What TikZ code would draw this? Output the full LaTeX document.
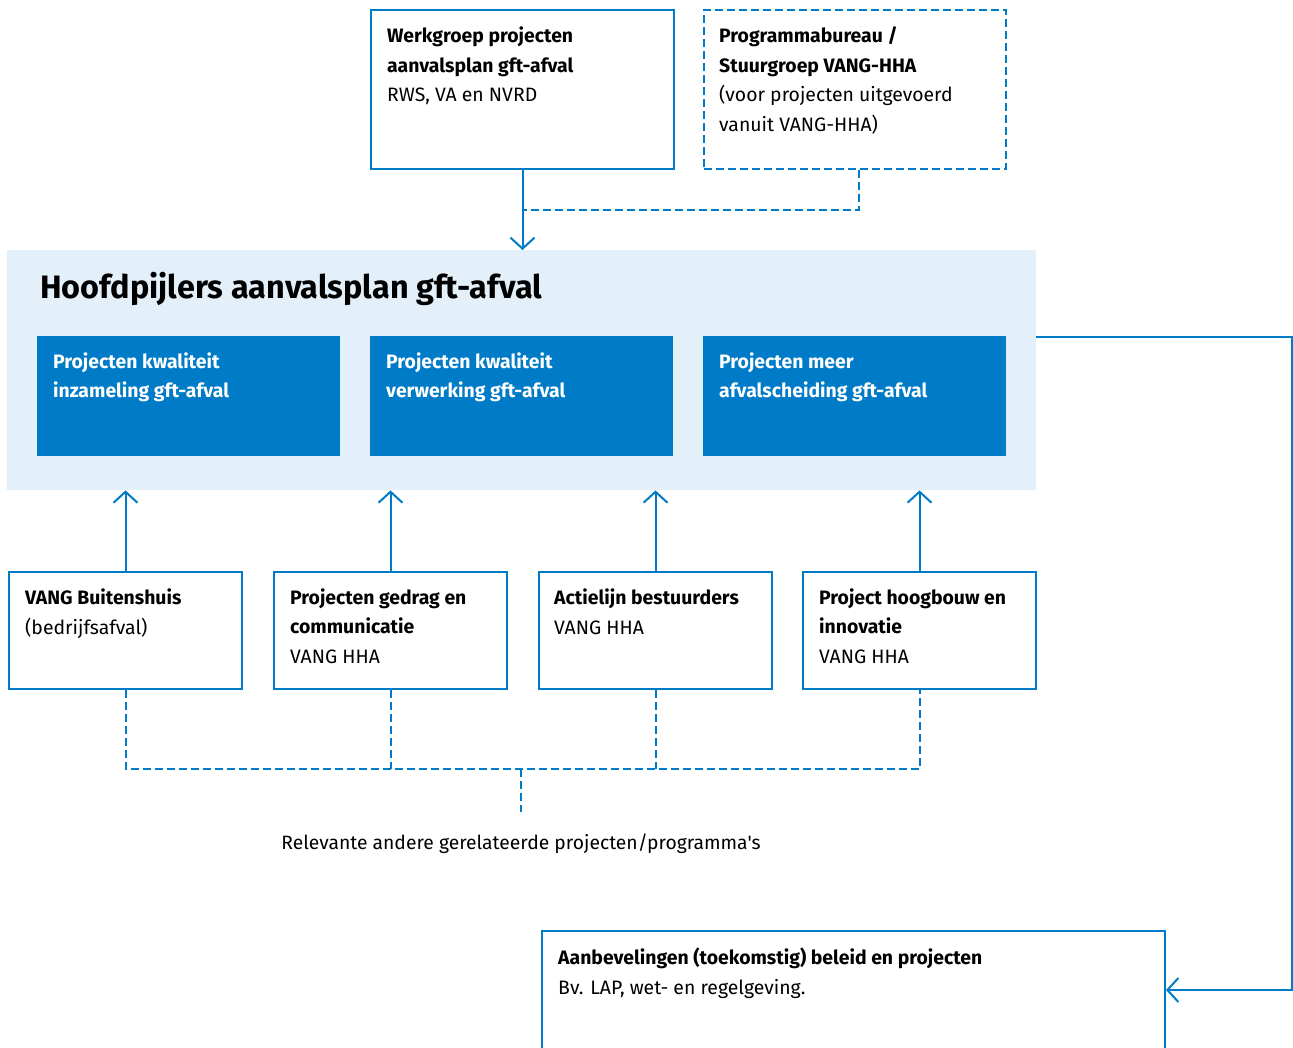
\documentclass[tikz,border=0pt]{standalone}
\usepackage{fontspec}
\setmainfont{Fira Sans}[Ligatures=TeXOff]
\usetikzlibrary{arrows.meta,calc}
\definecolor{rblue}{RGB}{0,123,199}
\definecolor{lightbg}{RGB}{227,240,249}
\tikzset{
  outline/.style={draw=rblue, line width=2pt, fill=white, anchor=north west, inner sep=0pt},
  dashbox/.style={outline, dash pattern=on 8pt off 4pt},
  pillar/.style={fill=rblue, draw=none, anchor=north west, inner sep=0pt, minimum width=303pt, minimum height=120pt},
  lower/.style={outline, minimum width=233pt, minimum height=117pt},
  lbl/.style={anchor=base west, inner sep=0pt, align=left, font=\fontsize{19.4}{29.5}\selectfont},
  wlbl/.style={lbl, text=white, font=\fontsize{19.4}{29.5}\selectfont\bfseries},
  conn/.style={draw=rblue, line width=2pt},
  dconn/.style={conn, dash pattern=on 8pt off 4pt},
  tip/.style={-{Straight Barb[length=11pt, width=24pt, line width=2pt]}}
}
\begin{document}
\begin{tikzpicture}[x=1pt, y=-1pt]
\clip (0,0) rectangle (1293,1048);
\fill[white] (0,0) rectangle (1293,1048);

% top boxes
\node[outline, minimum width=303pt, minimum height=159pt] (wg) at (370,9) {};
\node[dashbox, minimum width=302pt, minimum height=159pt] (pb) at (703,9) {};
\node[lbl] (wgt) at (387,102) {\textbf{Werkgroep projecten}\\\textbf{aanvalsplan gft-afval}\\RWS, VA en NVRD};
\node[lbl] (pbt) at (719,131.5) {\textbf{Programmabureau /}\\\textbf{Stuurgroep VANG-HHA}\\(voor projecten uitgevoerd\\vanuit VANG-HHA)};

% main area
\node[fill=lightbg, draw=none, anchor=north west, inner sep=0pt, minimum width=1029pt, minimum height=240pt] (hb) at (7,250) {};
\node[anchor=base west, inner sep=0pt, font=\fontsize{32.4}{40}\selectfont\bfseries] (title) at (40,299) {Hoofdpijlers aanvalsplan gft-afval};

\node[pillar] (p1) at (37,336) {};
\node[pillar] (p2) at (370,336) {};
\node[pillar] (p3) at (703,336) {};
\node[wlbl] (p1t) at (53,398) {Projecten kwaliteit\\inzameling gft-afval};
\node[wlbl] (p2t) at (386,398) {Projecten kwaliteit\\verwerking gft-afval};
\node[wlbl] (p3t) at (719,398) {Projecten meer\\afvalscheiding gft-afval};

% lower boxes
\node[lower] (b1) at (8,571) {};
\node[lower] (b2) at (273,571) {};
\node[lower] (b3) at (538,571) {};
\node[lower] (b4) at (802,571) {};
\node[lbl] (b1t) at (25,634) {\textbf{VANG Buitenshuis}\\(bedrijfsafval)};
\node[lbl] (b2t) at (290,663) {\textbf{Projecten gedrag en}\\\textbf{communicatie}\\VANG HHA};
\node[lbl] (b3t) at (554,634) {\textbf{Actielijn bestuurders}\\VANG HHA};
\node[lbl] (b4t) at (819,663) {\textbf{Project hoogbouw en}\\\textbf{innovatie}\\VANG HHA};

\node[anchor=base, inner sep=0pt, font=\fontsize{19.3}{22}\selectfont] (rel) at (521,849) {Relevante andere gerelateerde projecten/programma's};

% bottom box
\node[outline, minimum width=623pt, minimum height=160pt] (ab) at (541,930) {};
\node[lbl] (abt) at (558,994) {\textbf{Aanbevelingen (toekomstig) beleid en projecten}\\Bv. LAP, wet- en regelgeving.};

% connectors
\coordinate (j1) at (522,210);
\draw[conn, tip] (wg.south) -- (wg.south |- hb.north);
\draw[dconn] ($(pb.south)+(4,0)$) |- (j1);

\foreach \b in {b1,b2,b3,b4} {
  \draw[conn, tip] (\b.north) -- (\b.north |- hb.south);
}
\coordinate (j2) at (521,769);
\coordinate (j3) at (521,812);
\draw[dconn] (b1.south) |- (b4.south |- j2) -- (b4.south);
\draw[dconn] (b2.south) -- (b2.south |- j2);
\draw[dconn] (b3.south) -- (b3.south |- j2);
\draw[dconn] (j2) -- (j3);

\coordinate (rc) at (1292,337);
\draw[conn, tip] (hb.east |- rc) -- (rc) |- (ab.east |- 0,990);
\end{tikzpicture}
\end{document}
